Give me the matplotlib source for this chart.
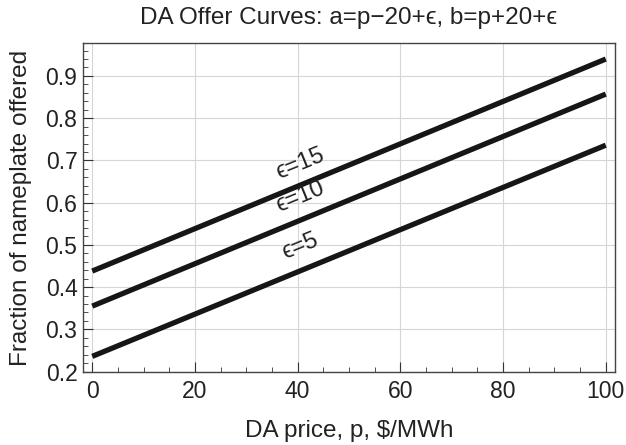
import matplotlib
matplotlib.use('Agg')
import matplotlib.pyplot as plt
from matplotlib.ticker import MultipleLocator

plt.rcParams['font.family'] = ['Liberation Sans', 'Noto Sans', 'DejaVu Sans']

# Données
prix = [0, 100]
eps_labels = ['\u03f5=15', '\u03f5=10', '\u03f5=5']
offre_15 = [0.438, 0.940]
offre_10 = [0.355, 0.857]
offre_5 = [0.236, 0.736]
label_x = [40.5, 40.5, 40.5]
label_y = [0.692, 0.614, 0.497]

fig = plt.figure(figsize=(6.26, 4.45), dpi=100)
ax = fig.add_axes([83 / 626, 1 - 372 / 445, 532 / 626, 329 / 445])

for serie in (offre_15, offre_10, offre_5):
    ax.plot(prix, serie, color='#161616', lw=3.8, solid_capstyle='butt')

for txt, x, y in zip(eps_labels, label_x, label_y):
    ax.text(x, y, txt, rotation=22.3, rotation_mode='anchor',
            ha='center', va='center', fontsize=17, color='#222222')

ax.set_xlim(-1.8, 101.8)
ax.set_ylim(0.199, 0.978)
ax.xaxis.set_major_locator(MultipleLocator(20))
ax.xaxis.set_minor_locator(MultipleLocator(5))
ax.yaxis.set_major_locator(MultipleLocator(0.1))
ax.yaxis.set_minor_locator(MultipleLocator(0.02))
ax.tick_params(which='both', direction='in', top=False, right=False,
               labelsize=16.5, colors='#333333', labelcolor='#222222')
ax.tick_params(which='major', length=7, width=0.8)
ax.tick_params(axis='x', which='major', pad=6)
ax.tick_params(axis='y', which='major', pad=4)
ax.tick_params(which='minor', length=3.5, width=0.6)
ax.grid(True, which='major', color='#d6d6d6', lw=0.8)
for s in ax.spines.values():
    s.set_color('#444444')
    s.set_linewidth(1.0)

ax.set_xlabel('DA price, p, $/MWh', fontsize=17.5, color='#222222', labelpad=12)
ax.set_ylabel('Fraction of nameplate offered', fontsize=17.5, color='#222222', labelpad=10)
ax.set_title('DA Offer Curves: a=p\u221220+\u03f5, b=p+20+\u03f5', fontsize=17.5, color='#222222', pad=14)

fig.savefig('out.png', dpi=100)
